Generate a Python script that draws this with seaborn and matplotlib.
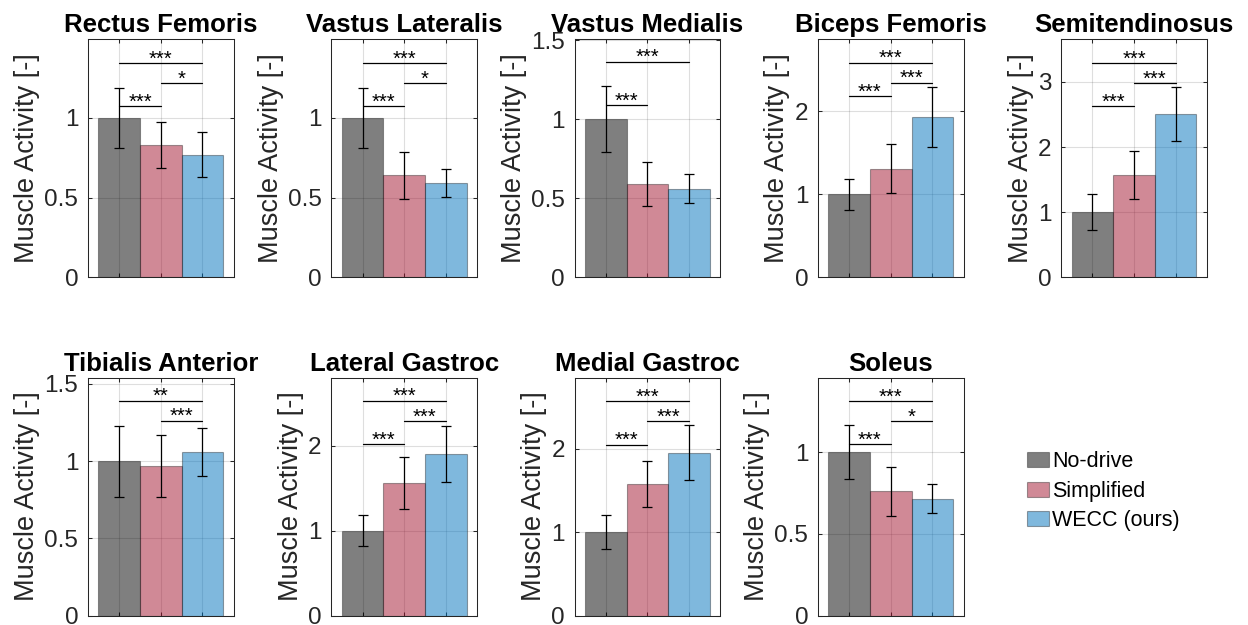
import numpy as np
import pandas as pd
import matplotlib
matplotlib.use("Agg")
import matplotlib.pyplot as plt
from matplotlib.patches import Patch
import seaborn as sns

# --- values ---
MUSCLES = ["Rectus Femoris", "Vastus Lateralis", "Vastus Medialis", "Biceps Femoris",
           "Semitendinosus", "Tibialis Anterior", "Lateral Gastroc", "Medial Gastroc", "Soleus"]
CONDITIONS = ["No-drive", "Simplified", "WECC (ours)"]

NO_DRIVE   = [1.0, 1.0, 1.0, 1.0, 1.0, 1.0, 1.0, 1.0, 1.0]
SIMPLIFIED = [0.83, 0.64, 0.59, 1.31, 1.57, 0.97, 1.56, 1.58, 0.76]
WECC       = [0.77, 0.59, 0.56, 1.935, 2.51, 1.06, 1.905, 1.95, 0.715]

SD_NO_DRIVE   = [0.19, 0.19, 0.21, 0.185, 0.28, 0.23, 0.187, 0.20, 0.167]
SD_SIMPLIFIED = [0.145, 0.147, 0.141, 0.295, 0.37, 0.20, 0.31, 0.276, 0.152]
SD_WECC       = [0.139, 0.089, 0.094, 0.36, 0.415, 0.155, 0.33, 0.332, 0.089]

Y_MAX  = [1.494, 1.494, 1.505, 2.87, 3.656, 1.54, 2.80, 2.85, 1.456]
Y_STEP = [0.5, 0.5, 0.5, 1, 1, 0.5, 1, 1, 0.5]

# significance brackets: (bar a, bar b, height, label)
SIGNIF = [
    [(0, 1, 1.073, "***"), (1, 2, 1.218, "*"), (0, 2, 1.343, "***")],
    [(0, 1, 1.073, "***"), (1, 2, 1.218, "*"), (0, 2, 1.343, "***")],
    [(0, 1, 1.089, "***"), (0, 2, 1.363, "***")],
    [(0, 1, 2.181, "***"), (1, 2, 2.347, "***"), (0, 2, 2.589, "***")],
    [(0, 1, 2.631, "***"), (1, 2, 2.985, "***"), (0, 2, 3.292, "***")],
    [(1, 2, 1.26, "***"), (0, 2, 1.39, "**")],
    [(0, 1, 2.016, "***"), (1, 2, 2.29, "***"), (0, 2, 2.528, "***")],
    [(0, 1, 2.048, "***"), (1, 2, 2.328, "***"), (0, 2, 2.568, "***")],
    [(0, 1, 1.047, "***"), (1, 2, 1.19, "*"), (0, 2, 1.313, "***")],
]

COLORS = ["#000000", "#A2142F", "#0072BD"]
DARK = "#262626"

sns.set_style("white")
plt.rcParams["font.family"] = ["Liberation Sans", "DejaVu Sans"]

df = pd.DataFrame({
    "muscle": np.repeat(MUSCLES, 3),
    "condition": CONDITIONS * len(MUSCLES),
    "mean": np.column_stack([NO_DRIVE, SIMPLIFIED, WECC]).ravel(),
    "sd": np.column_stack([SD_NO_DRIVE, SD_SIMPLIFIED, SD_WECC]).ravel(),
})

W, H = 1248, 625
fig = plt.figure(figsize=(W / 100, H / 100), dpi=100)

lefts = [88, 331.3, 574.6, 817.9, 1061.2]
tops = [39.3, 377.7]
aw, ah = 145.6, 237.8

for k, muscle in enumerate(MUSCLES):
    r, c = divmod(k, 5)
    ax = fig.add_axes([lefts[c] / W, 1 - (tops[r] + ah) / H, aw / W, ah / H])
    sub = df[df["muscle"] == muscle]
    sns.barplot(data=sub, x="condition", y="mean", hue="condition", palette=COLORS,
                order=CONDITIONS, hue_order=CONDITIONS, width=1.0, errorbar=None,
                legend=False, ax=ax)
    for p, col in zip(ax.patches, COLORS):
        rgb = matplotlib.colors.to_rgb(col)
        p.set_facecolor((*rgb, 0.5))
        p.set_edgecolor((0, 0, 0, 0.35))
        p.set_linewidth(0.8)
        p.set_zorder(2)
    ax.errorbar(range(3), sub["mean"], yerr=sub["sd"], fmt="none", ecolor="black",
                elinewidth=0.9, capsize=3.5, capthick=0.9, zorder=3)
    for a, b, h, lab in SIGNIF[k]:
        ax.plot([a, b], [h, h], color="black", lw=0.9, zorder=3)
        ax.annotate(lab, xy=((a + b) / 2, h), xytext=(0, -1.0), textcoords="offset points",
                    ha="center", va="baseline", fontsize=14.5, color="black")

    ax.set_xlim(-0.75, 2.75)
    ax.set_ylim(0, Y_MAX[k])
    ax.set_xticks(range(3))
    ax.set_xticklabels([])
    yt = np.arange(0, Y_MAX[k] + 1e-9, Y_STEP[k])
    ax.set_yticks(yt)
    ax.set_yticklabels([f"{v:g}" for v in yt])
    ax.set_xlabel("")
    ax.set_ylabel("Muscle Activity [-]", fontsize=19.5, color=DARK, labelpad=3)
    ax.set_title(muscle, fontsize=18.5, fontweight="bold", pad=5, color="black")
    ax.set_axisbelow(True)
    ax.grid(True, color=DARK, alpha=0.15, lw=0.8)
    ax.tick_params(direction="in", length=3, width=0.75, color=DARK, labelcolor=DARK,
                   labelsize=17.5, pad=7, top=True, right=True, left=True, bottom=True)
    for s in ax.spines.values():
        s.set_visible(True)
        s.set_color(DARK)
        s.set_linewidth(0.75)

handles = [Patch(facecolor=(*matplotlib.colors.to_rgb(c), 0.5), edgecolor=(0, 0, 0, 0.35),
                 lw=0.8) for c in COLORS]
fig.legend(handles, CONDITIONS, loc="upper left", bbox_to_anchor=(1027 / W, 1 - 451 / H),
           frameon=False, fontsize=15.5, handlelength=1.0, handleheight=0.7,
           handletextpad=0.15, labelspacing=0.4, borderpad=0, borderaxespad=0,
           labelcolor="black")

fig.savefig("out.png", dpi=100)
